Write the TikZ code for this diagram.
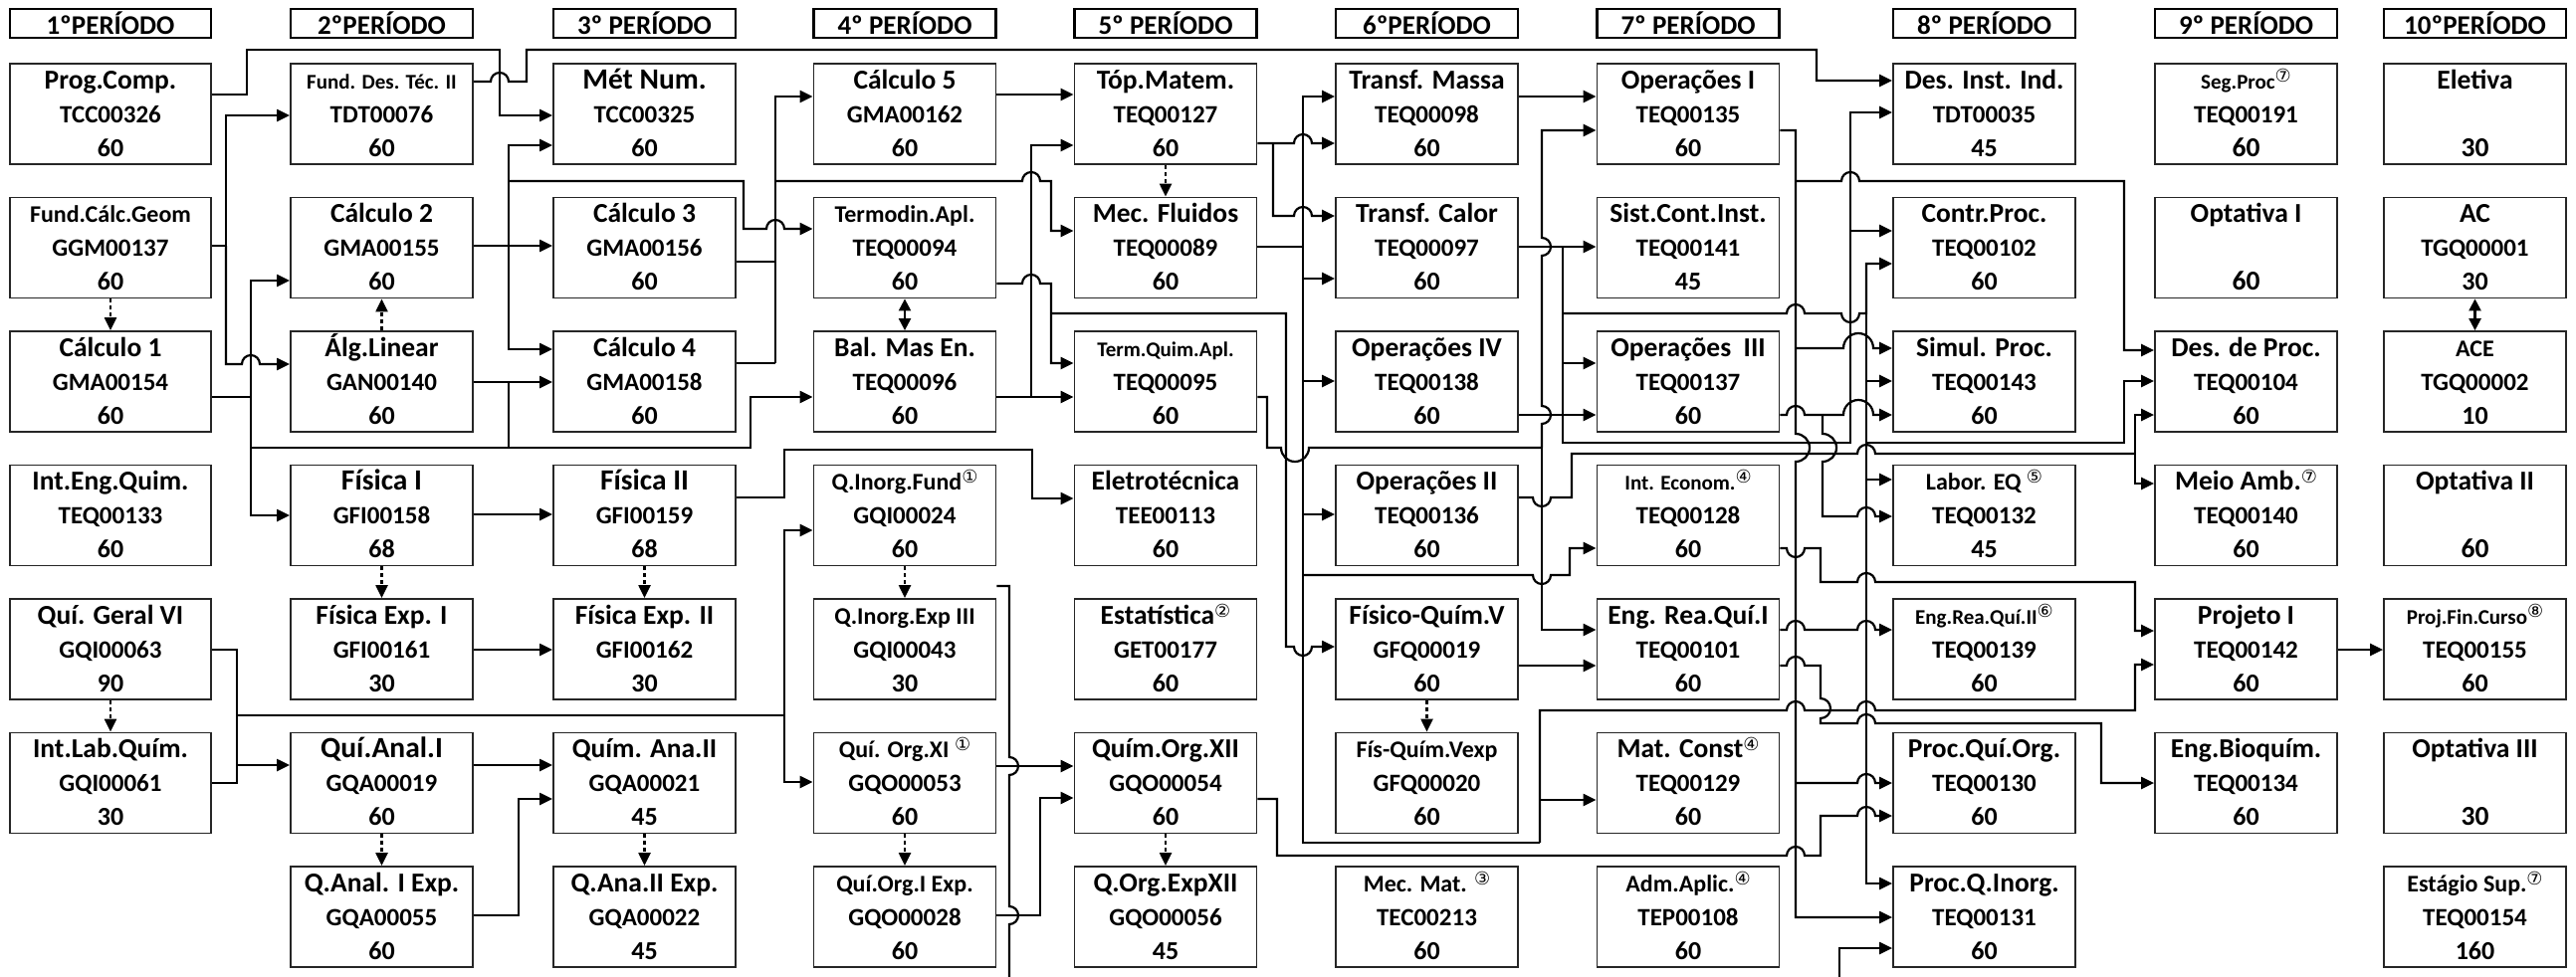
\documentclass[tikz,border=0pt]{standalone}
\usepackage{fontspec}
\setmainfont{Carlito}
\newfontfamily\circfont{DejaVu Sans}
\usetikzlibrary{arrows.meta}

\newcommand\tA{\fontsize{27.5}{29}\selectfont}
\newcommand\tB{\fontsize{24}{26}\selectfont}
\newcommand\tC{\fontsize{21}{23}\selectfont}
\newcommand\tD{\fontsize{29.5}{31}\selectfont}
\newcommand\cs{\fontsize{25}{27}\selectfont}
\newcommand\hs{\fontsize{26}{28}\selectfont}
\newcommand\nota[1]{\raisebox{7pt}{\circfont\mdseries\fontsize{18}{18}\selectfont#1}}
% saltos de linha (hops)
\newcommand\hopu[2]{-- (#1-9,#2) arc[start angle=180,end angle=360,radius=9]}
\newcommand\hopd[2]{-- (#1-9,#2) arc[start angle=180,end angle=0,radius=9]}
\newcommand\hopdn[2]{-- (#1,#2-9) arc[start angle=-90,end angle=90,radius=9]}
\newcommand\hopup[2]{-- (#1,#2+9) arc[start angle=90,end angle=-90,radius=9]}

\tikzset{
  caixa/.style={draw=black!85, line width=1.8pt, minimum height=101pt, inner sep=0pt},
  cab/.style={draw, line width=2.6pt, minimum height=29pt, inner sep=0pt, font=\fontsize{27}{28}\selectfont\bfseries},
  rot/.style={anchor=base, inner sep=0pt, font=\bfseries},
  linha/.style={line width=2.2pt},
  seta/.style={line width=2.2pt, -{Triangle[length=13pt,width=12pt]}},
  dupla/.style={line width=2.2pt, {Triangle[length=12pt,width=12pt]}-{Triangle[length=12pt,width=12pt]}},
  pont/.style={line width=2.2pt, dash pattern=on 4pt off 3pt, -{Triangle[length=13pt,width=12pt]}},
}

\begin{document}
\begin{tikzpicture}[x=1pt,y=-1pt]
\useasboundingbox (0,0) rectangle (2588,982);

% cabecalhos
\foreach \i/\cx/\bw/\tx in {1/111/202/1ºPERÍODO, 2/383.5/183/2ºPERÍODO, 3/647.5/183/3º PERÍODO,
  4/909/183/4º PERÍODO, 5/1171/183/5º PERÍODO, 6/1433.5/183/6ºPERÍODO, 7/1696/183/7º PERÍODO,
  8/1993.5/183/8º PERÍODO, 9/2256.5/183/9º PERÍODO, 10/2486.5/183/10ºPERÍODO}
  \node[cab, minimum width=\bw pt] (p\i) at (\cx,23.5) {\tx};

% disciplinas
\foreach \nm/\cc/\rr/\ti/\co/\ho in {
  prog/1/1/{\tA Prog.Comp.}/TCC00326/60,
  fcg/1/2/{\tB Fund.Cálc.Geom}/GGM00137/60,
  calc1/1/3/{\tA Cálculo 1}/GMA00154/60,
  ieq/1/4/{\tA Int.Eng.Quim.}/TEQ00133/60,
  qg6/1/5/{\tA Quí. Geral VI}/GQI00063/90,
  ilq/1/6/{\tA Int.Lab.Quím.}/GQI00061/30,
  fdt/2/1/{\tC Fund. Des. Téc. II}/TDT00076/60,
  calc2/2/2/{\tA Cálculo 2}/GMA00155/60,
  alg/2/3/{\tA Álg.Linear}/GAN00140/60,
  fis1/2/4/{\tD Física I}/GFI00158/68,
  fe1/2/5/{\tA Física Exp. I}/GFI00161/30,
  qa1/2/6/{\tD Quí.Anal.I}/GQA00019/60,
  qae1/2/7/{\tA Q.Anal. I Exp.}/GQA00055/60,
  metn/3/1/{\tD Mét Num.}/TCC00325/60,
  calc3/3/2/{\tA Cálculo 3}/GMA00156/60,
  calc4/3/3/{\tA Cálculo 4}/GMA00158/60,
  fis2/3/4/{\tD Física II}/GFI00159/68,
  fe2/3/5/{\tA Física Exp. II}/GFI00162/30,
  qa2/3/6/{\tA Quím. Ana.II}/GQA00021/45,
  qae2/3/7/{\tA Q.Ana.II Exp.}/GQA00022/45,
  calc5/4/1/{\tA Cálculo 5}/GMA00162/60,
  termo/4/2/{\tB Termodin.Apl.}/TEQ00094/60,
  bal/4/3/{\tA Bal. Mas En.}/TEQ00096/60,
  qif/4/4/{\tB Q.Inorg.Fund\nota{①}}/GQI00024/60,
  qie/4/5/{\tB Q.Inorg.Exp III}/GQI00043/30,
  qo11/4/6/{\tB Quí. Org.XI \nota{①}}/GQO00053/60,
  qoe1/4/7/{\tB Quí.Org.I Exp.}/GQO00028/60,
  topm/5/1/{\tA Tóp.Matem.}/TEQ00127/60,
  mecf/5/2/{\tA Mec. Fluidos}/TEQ00089/60,
  tqa/5/3/{\tC Term.Quim.Apl.}/TEQ00095/60,
  elet/5/4/{\tA Eletrotécnica}/TEE00113/60,
  estat/5/5/{\tA Estatística\nota{②}}/GET00177/60,
  qo12/5/6/{\tA Quím.Org.XII}/GQO00054/60,
  qoe12/5/7/{\tA Q.Org.ExpXII}/GQO00056/45,
  tmas/6/1/{\tA Transf. Massa}/TEQ00098/60,
  tcal/6/2/{\tA Transf. Calor}/TEQ00097/60,
  op4/6/3/{\tA Operações IV}/TEQ00138/60,
  op2/6/4/{\tA Operações II}/TEQ00136/60,
  fq5/6/5/{\tA Físico-Quím.V}/GFQ00019/60,
  fqe/6/6/{\tB Fís-Quím.Vexp}/GFQ00020/60,
  mmat/6/7/{\tB Mec. Mat. \nota{③}}/TEC00213/60,
  op1/7/1/{\tA Operações I}/TEQ00135/60,
  sci/7/2/{\tA Sist.Cont.Inst.}/TEQ00141/45,
  op3/7/3/{\tA Operações\ \ III}/TEQ00137/60,
  iec/7/4/{\tC Int. Econom.\nota{④}}/TEQ00128/60,
  erq1/7/5/{\tA Eng. Rea.Quí.I}/TEQ00101/60,
  mcon/7/6/{\tA Mat. Const\nota{④}}/TEQ00129/60,
  adm/7/7/{\tB Adm.Aplic.\nota{④}}/TEP00108/60,
  dii/8/1/{\tA Des. Inst. Ind.}/TDT00035/45,
  cpr/8/2/{\tA Contr.Proc.}/TEQ00102/60,
  sim/8/3/{\tA Simul. Proc.}/TEQ00143/60,
  lab/8/4/{\tB Labor. EQ \nota{⑤}}/TEQ00132/45,
  erq2/8/5/{\tC Eng.Rea.Quí.II\nota{⑥}}/TEQ00139/60,
  pqo/8/6/{\tA Proc.Quí.Org.}/TEQ00130/60,
  pqi/8/7/{\tA Proc.Q.Inorg.}/TEQ00131/60,
  seg/9/1/{\tC Seg.Proc\nota{⑦}}/TEQ00191/{\tA 60},
  opt1/9/2/{\tA Optativa I}/{}/{\tA 60},
  dproc/9/3/{\tA Des. de Proc.}/TEQ00104/60,
  mamb/9/4/{\tA Meio Amb.\nota{⑦}}/TEQ00140/60,
  proj/9/5/{\tA Projeto I}/TEQ00142/60,
  ebq/9/6/{\tA Eng.Bioquím.}/TEQ00134/60,
  elv/10/1/{\tA Eletiva}/{}/{\tA 30},
  ac/10/2/{\tA AC}/TGQ00001/30,
  ace/10/3/{\tB ACE}/TGQ00002/10,
  opt2/10/4/{\tA Optativa II}/{}/{\tA 60},
  pfc/10/5/{\tC Proj.Fin.Curso\nota{⑧}}/TEQ00155/60,
  opt3/10/6/{\tA Optativa III}/{}/{\tA 30},
  estg/10/7/{\tB Estágio Sup.\nota{⑦}}/TEQ00154/160}{
  \pgfmathsetmacro\cx{{111,383.5,647.5,909,1171,1433.5,1696,1993.5,2256.5,2486.5}[\cc-1]}
  \pgfmathsetmacro\cy{114.5+134.5*(\rr-1)}
  \pgfmathsetmacro\bw{\cc==1 ? 202 : 183}
  \node[caixa, minimum width=\bw pt] (\nm) at (\cx,\cy) {};
  \node[rot] (\nm-t) at (\cx,\cy-25.5) {\ti};
  \node[rot] (\nm-c) at (\cx,\cy+8.5) {\cs\co};
  \node[rot] (\nm-h) at (\cx,\cy+42.5) {\hs\ho};
}

% co-requisitos (pontilhado)
\draw[pont] (fcg.south) -- (calc1.north);
\draw[pont] (alg.north) -- (calc2.south);
\draw[pont] (topm.south) -- (mecf.north);
\draw[pont] (fis1.south) -- (fe1.north);
\draw[pont] (fis2.south) -- (fe2.north);
\draw[pont] (qg6.south) -- (ilq.north);
\draw[pont] (qa1.south) -- (qae1.north);
\draw[pont] (qa2.south) -- (qae2.north);
\draw[pont] (qif.south) -- (qie.north);
\draw[pont] (qo11.south) -- (qoe1.north);
\draw[pont] (qo12.south) -- (qoe12.north);
\draw[pont] (fq5.south) -- (fqe.north);
\draw[dupla] (termo.south) -- (bal.north);
\draw[dupla] (ac.south) -- (ace.north);

% 1o e 2o periodos
\draw[seta] (prog.east|-0,95) -| (248,50) -| (502,116) -- (metn.west|-0,116);
\draw[seta] (fdt.east|-0,82) \hopu{502}{82} -- (529,82) -- (529,50) -| (1825,81) -- (dii.west|-0,81);
\draw[linha] (fcg.east|-0,247) -- (227,247);
\draw[seta] (227,247) |- (fdt.west|-0,116);
\draw[seta] (227,247) -- (227,366) \hopu{252}{366} -- (alg.west|-0,366);
\draw[linha] (calc1.east|-0,399) -- (252,399);
\draw[seta] (252,399) |- (calc2.west|-0,282);
\draw[seta] (252,399) |- (fis1.west|-0,518);
\draw[seta] (252,399) |- (754,450) |- (bal.west|-0,399);
\draw[seta] (alg.east|-0,384) -- (calc4.west|-0,384);
\draw[linha] (511,384) -- (511,450);
\draw[seta] (calc2.east|-0,247) -- (calc3.west|-0,247);
\draw[seta] (511,247) |- (metn.west|-0,146);
\draw[seta] (511,247) |- (calc4.west|-0,351);
\draw[seta] (511,182) -| (747,230) \hopu{779}{230} -- (termo.west|-0,230);
\draw[linha] (qg6.east|-0,653) -- (238,653) |- (ilq.east|-0,787);
\draw[seta] (238,769) -- (qa1.west|-0,769);
\draw[linha] (238,719) -- (788,719);
\draw[seta] (788,719) |- (qif.west|-0,533);
\draw[seta] (788,719) |- (qo11.west|-0,786);
\draw[seta] (fis1.east|-0,517) -- (fis2.west|-0,517);
\draw[seta] (fe1.east|-0,653) -- (fe2.west|-0,653);
\draw[seta] (qa1.east|-0,769) -- (qa2.west|-0,769);
\draw[seta] (qae1.east|-0,920) -- (521,920) |- (qa2.west|-0,803);

% 3o e 4o periodos
\draw[linha] (calc3.east|-0,263) -- (779,263);
\draw[linha] (calc4.east|-0,365) -- (779,365);
\draw[seta] (779,365) |- (calc5.west|-0,97);
\draw[seta] (779,182) \hopu{1036}{182} -- (1056,182) |- (mecf.west|-0,232);
\draw[seta] (fis2.east|-0,500) -- (788,500) |- (1037,452) |- (elet.west|-0,501);
\draw[seta] (calc5.east|-0,95) -- (topm.west|-0,95);
\draw[seta] (bal.east|-0,399) -- (tqa.west|-0,399);
\draw[seta] (1036,399) |- (topm.west|-0,146);
\draw[seta] (termo.east|-0,285) \hopu{1036}{285} -- (1056,285) |- (tqa.west|-0,365);
\draw[seta] (1056,315) -- (1292,315) -- (1292,650) \hopd{1309}{650} -- (fq5.west|-0,650);
\draw[linha] (qif.east|-0,589) -- (1014,589) \hopdn{1014}{770} \hopdn{1014}{920} -- (1014,982);
\draw[seta] (qo11.east|-0,770) -- (qo12.west|-0,770);
\draw[seta] (qoe1.east|-0,920) -- (1045,920) |- (qo12.west|-0,802);

% 5o e 6o periodos
\draw[seta] (topm.east|-0,144) -- (1279,144) \hopu{1309}{144} -- (tmas.west|-0,144);
\draw[seta] (1279,144) -- (1279,217) \hopu{1309}{217} -- (tcal.west|-0,217);
\draw[linha] (mecf.east|-0,248) -- (1309,248);
\draw[seta] (1309,248) |- (tmas.west|-0,97);
\draw[seta] (1309,248) |- (tcal.west|-0,280);
\draw[seta] (1309,248) |- (op4.west|-0,383);
\draw[seta] (1309,383) |- (op2.west|-0,517);
\draw[seta] (1309,578) \hopd{1549}{578} -- (1577,578) |- (iec.west|-0,551);
\draw[linha] (1309,517) -- (1309,847) -- (1547,847);
\draw[seta] (1547,847) |- (mcon.west|-0,804);
\draw[seta] (1547,847) -- (1547,714) \hopu{1804}{714} \hopu{1875}{714} -- (2145,714) |- (proj.west|-0,668);
\draw[linha] (tqa.east|-0,399) -- (1273,399) -- (1273,450) -- (1287,450) arc[start angle=180,end angle=0,radius=14] -- (1549,450);
\draw[seta] (1549,450) \hopup{1549}{417} \hopup{1549}{248} -- (1549,131) -- (op1.west|-0,131);
\draw[seta] (1549,450) |- (erq1.west|-0,633);
\draw[seta] (qo12.east|-0,803) -- (1283,803) -- (1283,860) \hopu{1804}{860} -- (1829,860) -- (1829,820) \hopu{1875}{820} -- (pqo.west|-0,820);
\draw[seta] (tmas.east|-0,97) -- (op1.west|-0,97);
\draw[seta] (tcal.east|-0,248) -- (sci.west|-0,248);
\draw[seta] (1570,248) |- (op3.west|-0,365);
\draw[seta] (1570,365) |- (1859,445) |- (dii.west|-0,113);
\draw[seta] (1859,232) -- (cpr.west|-0,232);
\draw[seta] (1570,315) \hopu{1804}{315} \hopd{1859}{315} -- (1875,315) |- (cpr.west|-0,265);
\draw[seta] (op4.east|-0,417) -- (op3.west|-0,417);
\draw[linha] (op2.east|-0,500) \hopd{1549}{500} -- (1579,500) -- (1579,456) \hopu{1875}{456} -- (2145,456);
\draw[seta] (2145,456) |- (dproc.west|-0,417);
\draw[seta] (2145,456) |- (mamb.west|-0,486);
\draw[seta] (fq5.east|-0,669) -- (erq1.west|-0,669);

% 7o e 8o periodos
\draw[seta] (op1.east|-0,131) -- (1804,131) -- (1804,436) arc[start angle=-90,end angle=90,radius=14] -- (1804,922) -- (pqi.west|-0,922);
\draw[seta] (1804,182) \hopu{1859}{182} -- (2134,182) |- (dproc.west|-0,352);
\draw[seta] (1804,350) -- (1852,350) arc[start angle=180,end angle=360,radius=15] -- (sim.west|-0,350);
\draw[seta] (1804,787) \hopu{1875}{787} -- (pqo.west|-0,787);
\draw[linha] (op3.east|-0,417) \hopu{1804}{417} -- (1831,417);
\draw[seta] (1831,417) -- (1852,417) arc[start angle=180,end angle=360,radius=15] -- (sim.west|-0,417);
\draw[seta] (1831,417) -- (1831,436) arc[start angle=-90,end angle=90,radius=14] -- (1831,519) \hopu{1875}{519} -- (lab.west|-0,519);
\draw[seta] (1875,315) |- (sim.west|-0,383);
\draw[seta] (1875,383) |- (lab.west|-0,482);
\draw[seta] (1875,482) |- (pqi.west|-0,888);
\draw[seta] (1875,445) -- (2134,445) |- (dproc.west|-0,383);
\draw[seta] (iec.east|-0,551) \hopd{1804}{551} -- (1829,551) -- (1829,585) \hopu{1875}{585} -- (2145,585) |- (proj.west|-0,634);
\draw[seta] (erq1.east|-0,633) \hopu{1804}{633} \hopu{1875}{633} -- (erq2.west|-0,633);
\draw[seta] (erq1.east|-0,669) \hopu{1804}{669} -- (1829,669) -- (1829,702) arc[start angle=-90,end angle=90,radius=10] -- (1829,727) \hopu{1875}{727} -- (2111,727) |- (ebq.west|-0,787);
\draw[seta] (1848,982) |- (pqi.west|-0,953);
\draw[seta] (proj.east|-0,653) -- (pfc.west|-0,653);
\end{tikzpicture}
\end{document}
